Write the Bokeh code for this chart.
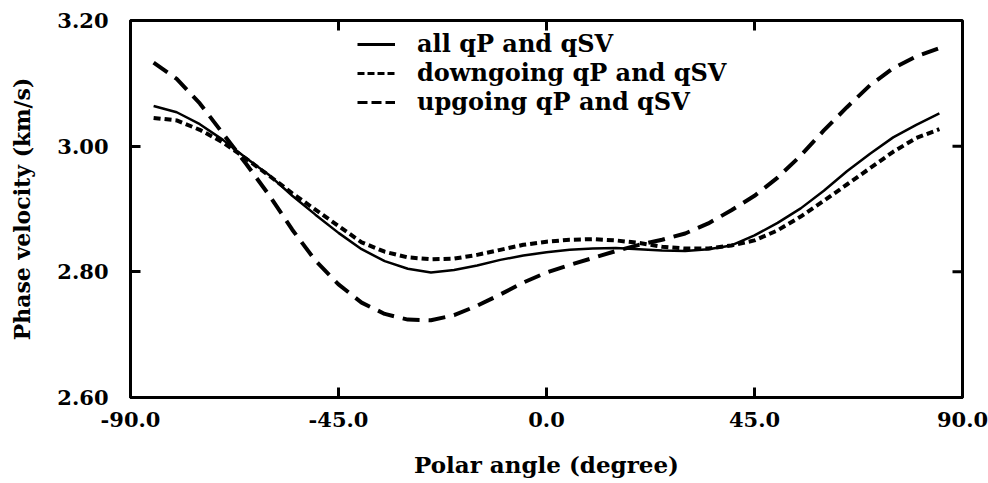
import math
from bokeh.plotting import figure
from bokeh.models import Range1d, FixedTicker, Legend, LegendItem
from bokeh.embed import file_html
from bokeh.resources import INLINE

angles = [-85, -80, -75, -70, -65, -60, -55, -50, -45, -40, -35, -30, -25, -20, -15, -10, -5, 0,
          5, 10, 15, 20, 25, 30, 35, 40, 45, 50, 55, 60, 65, 70, 75, 80, 85]
v_all = [3.064, 3.054, 3.035, 3.010, 2.981, 2.954, 2.921, 2.891, 2.862, 2.836, 2.817, 2.805, 2.799,
         2.803, 2.810, 2.819, 2.826, 2.831, 2.835, 2.837, 2.838, 2.836, 2.834, 2.833, 2.836, 2.842,
         2.858, 2.878, 2.901, 2.929, 2.960, 2.988, 3.014, 3.034, 3.052]
v_down = [3.045, 3.041, 3.026, 3.006, 2.980, 2.953, 2.925, 2.899, 2.873, 2.847, 2.832, 2.823, 2.820,
          2.821, 2.827, 2.835, 2.843, 2.848, 2.851, 2.852, 2.850, 2.846, 2.840, 2.837, 2.837, 2.842,
          2.850, 2.866, 2.888, 2.913, 2.939, 2.965, 2.991, 3.013, 3.027]
v_up = [3.133, 3.107, 3.068, 3.020, 2.972, 2.922, 2.867, 2.818, 2.780, 2.751, 2.733, 2.724, 2.723,
        2.731, 2.746, 2.764, 2.783, 2.799, 2.811, 2.822, 2.833, 2.843, 2.851, 2.861, 2.877, 2.898,
        2.921, 2.950, 2.985, 3.025, 3.062, 3.097, 3.124, 3.143, 3.156]

series_names = ["all qP and qSV", "downgoing qP and qSV", "upgoing qP and qSV"]

x_ticks = [-90, -45, 0, 45, 90]
x_tick_labels = ["-90.0", "-45.0", "0.0", "45.0", "90.0"]
y_ticks = [2.6, 2.8, 3.0, 3.2]
y_tick_labels = ["2.60", "2.80", "3.00", "3.20"]

FONT = "DejaVu Serif"

p = figure(width=988, height=483, output_backend="svg", toolbar_location=None,
           x_range=Range1d(x_ticks[0], x_ticks[-1]), y_range=Range1d(y_ticks[0], y_ticks[-1]),
           min_border_left=130, min_border_right=26, min_border_top=20, min_border_bottom=86)
p.xgrid.visible = False
p.ygrid.visible = False
p.outline_line_color = "black"
p.outline_line_width = 3
p.background_fill_color = "white"
p.border_fill_color = "white"

def style_axis(ax, ticks, labels):
    ax.ticker = FixedTicker(ticks=ticks)
    ax.major_label_overrides = {t: l for t, l in zip(ticks, labels)}
    ax.axis_line_width = 3
    ax.axis_line_color = "black"
    ax.major_tick_line_width = 3
    ax.major_tick_in = 10
    ax.major_tick_out = 0
    ax.minor_tick_line_color = None
    ax.major_label_text_font = FONT
    ax.major_label_text_font_style = "bold"
    ax.major_label_text_color = "black"
    ax.major_label_text_font_size = "21px"

xa = p.xaxis[0]
ya = p.yaxis[0]
style_axis(xa, x_ticks, x_tick_labels)
style_axis(ya, y_ticks, y_tick_labels)
xa.major_label_standoff = 14
ya.major_label_standoff = 22
xa.axis_label = "Polar angle (degree)"
ya.axis_label = "Phase velocity (km/s)"
for ax in (xa, ya):
    ax.axis_label_text_font = FONT
    ax.axis_label_text_font_style = "bold"
    ax.axis_label_text_color = "black"
xa.axis_label_text_font_size = "23px"
ya.axis_label_text_font_size = "22px"
xa.axis_label_standoff = 21
ya.axis_label_standoff = 19

# inward ticks on the top and right edges of the box
p.ray(x=x_ticks, y=[y_ticks[-1]] * len(x_ticks), length=10, length_units="screen",
      angle=-math.pi / 2, line_color="black", line_width=3)
p.ray(x=[x_ticks[-1]] * len(y_ticks), y=y_ticks, length=10, length_units="screen",
      angle=math.pi, line_color="black", line_width=3)

p.line(angles, v_all, line_color="black", line_width=2.5)
p.line(angles, v_down, line_color="black", line_width=4, line_dash="7 4")
p.line(angles, v_up, line_color="black", line_width=4, line_dash="17 9")

# legend samples (drawn only inside the legend)
nan2 = [float("nan")] * 2
l1 = p.line(nan2, nan2, line_color="black", line_width=3)
l2 = p.line(nan2, nan2, line_color="black", line_width=3, line_dash="7 3")
l3 = p.line(nan2, nan2, line_color="black", line_width=3, line_dash="10 4")

legend = Legend(items=[LegendItem(label=series_names[0], renderers=[l1]),
                       LegendItem(label=series_names[1], renderers=[l2]),
                       LegendItem(label=series_names[2], renderers=[l3])],
                location=(227, 281))
legend.border_line_color = None
legend.background_fill_alpha = 0
legend.padding = 0
legend.margin = 0
legend.spacing = 0
legend.glyph_width = 38
legend.glyph_height = 28
legend.label_height = 28
legend.label_standoff = 22
legend.label_text_font = FONT
legend.label_text_font_style = "bold"
legend.label_text_font_size = "24px"
legend.label_text_color = "black"
p.add_layout(legend, "center")

open("out.html", "w").write(file_html(p, INLINE))
